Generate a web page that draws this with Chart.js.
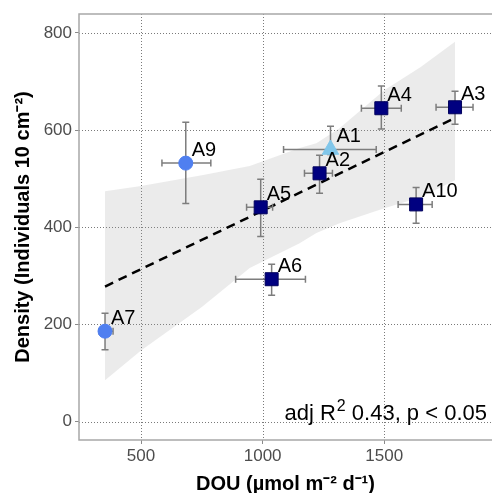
<!DOCTYPE html>
<html>
<head>
<meta charset="utf-8">
<script src="https://cdn.jsdelivr.net/npm/chart.js@4.4.1/dist/chart.umd.min.js"></script>
<style>
html,body{margin:0;padding:0;background:#fff;}
</style>
</head>
<body>
<canvas id="myChart" width="492" height="493"></canvas>
<script>
// sites, DOU (x) and density (y) with their error bars
const sites = ["A1","A2","A3","A4","A5","A6","A7","A9","A10"];
const siteGroup = ["tri","sq","sq","sq","sq","sq","dot","dot","sq"];
const dou = [1279,1234,1791,1488,992,1037,352,684,1631];
const douLow = [1086,1172,1713,1406,934,889,328,586,1557];
const douHigh = [1467,1287,1865,1570,1041,1176,385,787,1697];
const density = [560,511,647,645,441,293,186,532,447];
const densityLow = [550,470,612,602,381,260,148,449,408];
const densityHigh = [608,548,680,691,499,324,223,616,482];

// regression line and its confidence band
const fitX = [352,1791];
const fitY = [278,625];
const bandX = [352,500,750,947,1152,1221,1316,1500,1650,1791];
const bandUpper = [474,485,507,526,563,573,604,682,730,782];
const bandLower = [85,146,236,316,367,388,408,439,462,497];

const xTicks = [500,1000,1500];
const yTicks = [0,200,400,600,800];

const fontFam = '"Liberation Sans", Arial, sans-serif';
Chart.defaults.font.family = fontFam;

const groupColor = {sq:"#000080", dot:"#4f7ff0", tri:"#80c6ea"};

function pick(g){
  let out = [];
  sites.forEach((s,i)=>{
    if(siteGroup[i]===g) out.push({x:dou[i], y:density[i]});
  });
  return out;
}

function noPad(s){
  s.paddingLeft = 0; s.paddingRight = 0;
  s.paddingTop = 0; s.paddingBottom = 0;
}

// dotted grid under everything
const dottedGrid = {
  id:"dottedGrid",
  beforeDatasetsDraw(chart){
    const c = chart.ctx, a = chart.chartArea;
    const sx = chart.scales.x, sy = chart.scales.y;
    c.save();
    c.strokeStyle = "#7a7a7a";
    c.lineWidth = 1;
    c.setLineDash([1,2]);
    c.beginPath();
    xTicks.forEach(v=>{
      let px = Math.round(sx.getPixelForValue(v))+0.5;
      c.moveTo(px,a.top); c.lineTo(px,a.bottom);
    });
    yTicks.forEach(v=>{
      let py = Math.round(sy.getPixelForValue(v))+0.5;
      c.moveTo(a.left,py); c.lineTo(a.right,py);
    });
    c.stroke();
    c.restore();
  }
};

const errorBars = {
  id:"errorBars",
  afterDatasetDraw(chart,args){
    if(chart.data.datasets[args.index].label!=="fit") return;
    const c = chart.ctx, sx = chart.scales.x, sy = chart.scales.y;
    c.save();
    c.strokeStyle = "#7d7d7d";
    c.lineWidth = 1.5;
    const cap = 3.5;
    sites.forEach((s,i)=>{
      let px = sx.getPixelForValue(dou[i]);
      let py = sy.getPixelForValue(density[i]);
      let x0 = sx.getPixelForValue(douLow[i]);
      let x1 = sx.getPixelForValue(douHigh[i]);
      let y0 = sy.getPixelForValue(densityLow[i]);
      let y1 = sy.getPixelForValue(densityHigh[i]);
      c.beginPath();
      c.moveTo(x0,py); c.lineTo(x1,py);
      c.moveTo(x0,py-cap); c.lineTo(x0,py+cap);
      c.moveTo(x1,py-cap); c.lineTo(x1,py+cap);
      c.moveTo(px,y0); c.lineTo(px,y1);
      c.moveTo(px-cap,y0); c.lineTo(px+cap,y0);
      c.moveTo(px-cap,y1); c.lineTo(px+cap,y1);
      c.stroke();
    });
    c.restore();
  }
};

const extras = {
  id:"extras",
  afterDraw(chart){
    const c = chart.ctx, a = chart.chartArea;
    const sx = chart.scales.x, sy = chart.scales.y;
    c.save();
    // panel border (left, top, bottom)
    c.strokeStyle = "#a8a8a8";
    c.lineWidth = 1.5;
    c.beginPath();
    c.moveTo(a.right, a.top); c.lineTo(a.left, a.top);
    c.lineTo(a.left, a.bottom); c.lineTo(a.right, a.bottom);
    c.stroke();

    // site labels
    c.fillStyle = "#000";
    c.font = "20px " + fontFam;
    c.textAlign = "left";
    c.textBaseline = "middle";
    sites.forEach((s,i)=>{
      c.fillText(s, sx.getPixelForValue(dou[i])+6, sy.getPixelForValue(density[i])-13);
    });

    // statistics note
    const big = "22px " + fontFam, small = "16px " + fontFam;
    const p1 = "adj R", p2 = "2", p3 = " 0.43, p < 0.05";
    c.textBaseline = "alphabetic";
    c.font = big;
    let w1 = c.measureText(p1).width, w3 = c.measureText(p3).width;
    c.font = small;
    let w2 = c.measureText(p2).width;
    let base = a.bottom - 20;
    let x = a.right - 5 - (w1+w2+w3+1);
    c.font = big; c.fillText(p1, x, base);
    c.font = small; c.fillText(p2, x+w1+1, base-9);
    c.font = big; c.fillText(p3, x+w1+w2+1, base);
    c.restore();
  }
};

const ctx = document.getElementById("myChart");

let chart = new Chart(ctx,{
  type:"scatter",
  data:{
    datasets:[
      {label:"sq", data:pick("sq"), pointStyle:"rect", pointRadius:9.2,
       backgroundColor:groupColor.sq, borderColor:"#00005c", borderWidth:1, order:0},
      {label:"dot", data:pick("dot"), pointStyle:"circle", pointRadius:7,
       backgroundColor:groupColor.dot, borderColor:groupColor.dot, borderWidth:1, order:1},
      {label:"tri", data:pick("tri"), pointStyle:"triangle", pointRadius:9.5,
       backgroundColor:groupColor.tri, borderColor:groupColor.tri, borderWidth:1, order:2},
      {label:"fit", data:fitX.map((v,i)=>({x:v, y:fitY[i]})), showLine:true,
       borderColor:"#000", borderWidth:2.5, borderDash:[9,6], pointRadius:0, order:3},
      {label:"upper", data:bandX.map((v,i)=>({x:v, y:bandUpper[i]})), showLine:true,
       borderColor:"rgba(0,0,0,0)", borderWidth:0, pointRadius:0, fill:false, order:4},
      {label:"lower", data:bandX.map((v,i)=>({x:v, y:bandLower[i]})), showLine:true,
       borderColor:"rgba(0,0,0,0)", borderWidth:0, pointRadius:0, fill:"-1",
       backgroundColor:"rgba(153,153,153,0.2)", order:5}
    ]
  },
  options:{
    responsive:false,
    animation:false,
    layout:{autoPadding:false, padding:{top:14, left:0, right:0, bottom:0}},
    plugins:{legend:{display:false}, tooltip:{enabled:false}},
    scales:{
      x:{
        type:"linear", min:245, max:1943,
        afterBuildTicks:s=>{ s.ticks = xTicks.map(v=>({value:v})); },
        afterFit:s=>{ s.height = 53; noPad(s); },
        grid:{drawOnChartArea:false, lineWidth:1, tickLength:4, tickColor:"#8a8a8a"},
        border:{display:false},
        ticks:{color:"#4d4d4d", font:{size:17}, padding:2, maxRotation:0,
               callback:v=>String(v)},
        title:{display:true, text:"DOU (µmol m⁻² d⁻¹)", color:"#000",
               font:{size:20, weight:"bold", lineHeight:0.9}, padding:{top:0, bottom:0}}
      },
      y:{
        type:"linear", min:-38, max:839,
        afterBuildTicks:s=>{ s.ticks = yTicks.map(v=>({value:v})); },
        afterFit:s=>{ s.width = 79; noPad(s); },
        grid:{drawOnChartArea:false, lineWidth:1, tickLength:4, tickColor:"#8a8a8a"},
        border:{display:false},
        ticks:{color:"#4d4d4d", font:{size:17}, padding:3, callback:v=>String(v)},
        title:{display:true, text:"Density (Individuals 10 cm⁻²)", color:"#000",
               font:{size:20, weight:"bold"}, padding:{top:11, bottom:0}}
      }
    }
  },
  plugins:[dottedGrid, errorBars, extras]
});
</script>
</body>
</html>
